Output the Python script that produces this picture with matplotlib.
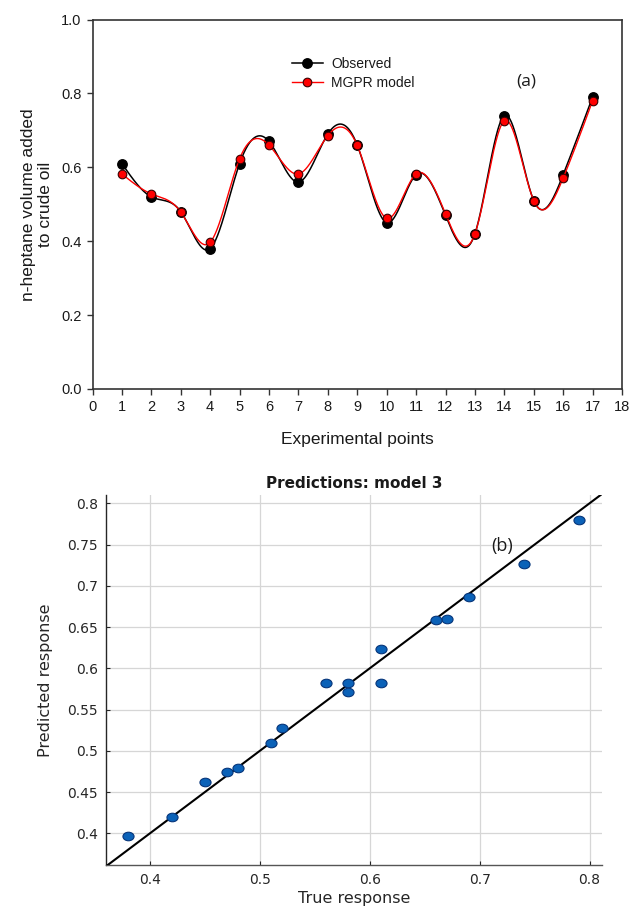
import numpy as np
import matplotlib
matplotlib.use("Agg")
import matplotlib.pyplot as plt
from matplotlib.lines import Line2D
from matplotlib.path import Path

# ---------------- data ----------------
exp_points = [1, 2, 3, 4, 5, 6, 7, 8, 9, 10, 11, 12, 13, 14, 15, 16, 17]
observed = [0.61, 0.52, 0.48, 0.38, 0.61, 0.67, 0.56, 0.69, 0.66, 0.45,
            0.58, 0.47, 0.42, 0.74, 0.51, 0.58, 0.79]
mgpr_model = [0.582, 0.528, 0.479, 0.397, 0.623, 0.660, 0.582, 0.686, 0.659, 0.462,
              0.582, 0.474, 0.420, 0.726, 0.510, 0.571, 0.780]

top_xticks = list(range(0, 19))
top_yticks = [0.0, 0.2, 0.4, 0.6, 0.8, 1.0]
bot_xticks = [0.4, 0.5, 0.6, 0.7, 0.8]
bot_yticks = [0.4, 0.45, 0.5, 0.55, 0.6, 0.65, 0.7, 0.75, 0.8]
bot_yticklabels = ["0.4", "0.45", "0.5", "0.55", "0.6", "0.65", "0.7", "0.75", "0.8"]


def natural_spline(x, y, xs):
    x = np.asarray(x, float)
    y = np.asarray(y, float)
    n = len(x)
    h = np.diff(x)
    A = np.zeros((n, n))
    b = np.zeros(n)
    A[0, 0] = 1.0
    A[-1, -1] = 1.0
    for i in range(1, n - 1):
        A[i, i - 1] = h[i - 1]
        A[i, i] = 2 * (h[i - 1] + h[i])
        A[i, i + 1] = h[i]
        b[i] = 6 * ((y[i + 1] - y[i]) / h[i] - (y[i] - y[i - 1]) / h[i - 1])
    M = np.linalg.solve(A, b)
    idx = np.clip(np.searchsorted(x, xs) - 1, 0, n - 2)
    x0, x1 = x[idx], x[idx + 1]
    hh = x1 - x0
    t1 = x1 - xs
    t0 = xs - x0
    return (M[idx] * t1 ** 3 / (6 * hh) + M[idx + 1] * t0 ** 3 / (6 * hh)
            + (y[idx] / hh - M[idx] * hh / 6) * t1
            + (y[idx + 1] / hh - M[idx + 1] * hh / 6) * t0)


W, H = 629, 911
fig = plt.figure(figsize=(W / 100, H / 100), dpi=100)
fig.patch.set_facecolor("white")

# ---------------- top panel (a) ----------------
sans = ["Liberation Sans", "DejaVu Sans"]
axA = fig.add_axes([92.5 / W, 1 - 389 / H, (622 - 92.5) / W, (389 - 19.5) / H])
xs = np.linspace(exp_points[0], exp_points[-1], 1000)
axA.plot(xs, natural_spline(exp_points, observed, xs), color="black", lw=1.1, zorder=2)
axA.plot(exp_points, observed, "o", color="black", ms=6.8, zorder=3)
axA.plot(xs, natural_spline(exp_points, mgpr_model, xs), color="#ff0000", lw=1.0, zorder=4)
axA.plot(exp_points, mgpr_model, "o", mfc="#ff0000", mec="#3a0000", mew=0.8, ms=6.2, zorder=5)

axA.set_xlim(0, 18)
axA.set_ylim(0, 1.0)
axA.set_xticks(top_xticks)
axA.set_xticklabels([str(t) for t in top_xticks], family=sans, fontsize=10.5, color="#1a1a1a")
axA.set_yticks(top_yticks)
axA.set_yticklabels(["%.1f" % t for t in top_yticks], family=sans, fontsize=10.5, color="#1a1a1a")
axA.tick_params(direction="out", length=4, width=1, color="#333333", pad=4)
for s in axA.spines.values():
    s.set_color("#333333")
    s.set_linewidth(1.2)
axA.set_xlabel("Experimental points", family=sans, fontsize=12.5, color="#1a1a1a", labelpad=13)
axA.set_ylabel("n-heptane volume added\nto crude oil", family=sans, fontsize=12.5,
               color="#1a1a1a", labelpad=6, linespacing=1.15)

h1 = Line2D([], [], color="black", lw=1.1, marker="o", ms=6.8, mfc="black", mec="black")
h2 = Line2D([], [], color="#ff0000", lw=1.0, marker="o", ms=6.2, mfc="#ff0000", mec="#3a0000", mew=0.8)
leg = axA.legend([h1, h2], ["Observed", "MGPR model"], loc="upper left",
                 bbox_to_anchor=(292 / W, 1 - 57 / H), bbox_transform=fig.transFigure,
                 frameon=False, borderpad=0, borderaxespad=0, handlelength=2.2,
                 handletextpad=0.6, labelspacing=0.35, prop={"family": sans, "size": 10})
for t in leg.get_texts():
    t.set_color("#1a1a1a")
axA.text(526 / W, 1 - 82 / H, "(a)", transform=fig.transFigure, ha="center", va="center",
         family=["Open Sans", "DejaVu Sans"], fontsize=12.5, color="#1a1a1a")

# ---------------- bottom panel (b) ----------------
bsans = ["DejaVu Sans"]
axB = fig.add_axes([106 / W, 1 - 865 / H, (601.7 - 106) / W, (865 - 495) / H])
xlimB = (0.36, 0.811)
ylimB = (0.3616, 0.81)
axB.set_xlim(*xlimB)
axB.set_ylim(*ylimB)
axB.grid(True, color="#d6d6d6", lw=0.9)
axB.set_axisbelow(True)
lo, hi = xlimB[0], 0.81
axB.plot([lo, hi], [lo, hi], color="black", lw=1.5, zorder=3)

circ = Path.unit_circle()
ell = Path(circ.vertices * np.array([1.3, 1.0]), circ.codes)
axB.plot(observed, mgpr_model, linestyle="none", marker=ell, ms=8,
         mfc="#0b62b8", mec="#06357a", mew=0.8, zorder=4)

axB.set_xticks(bot_xticks)
axB.set_xticklabels(["%.1f" % t for t in bot_xticks], family=bsans, fontsize=10, color="#262626")
axB.set_yticks(bot_yticks)
axB.set_yticklabels(bot_yticklabels, family=bsans, fontsize=10, color="#262626")
axB.tick_params(direction="in", length=3, width=0.8, color="#262626", pad=6)
axB.spines["top"].set_visible(False)
axB.spines["right"].set_visible(False)
axB.spines["left"].set_color("#262626")
axB.spines["bottom"].set_color("#555555")
axB.spines["left"].set_linewidth(1.0)
axB.spines["bottom"].set_linewidth(1.0)
axB.set_title("Predictions: model 3", family=bsans, fontsize=11, fontweight="bold",
              color="#1a1a1a", pad=5)
axB.set_xlabel("True response", family=bsans, fontsize=11.5, color="#262626", labelpad=3)
axB.set_ylabel("Predicted response", family=bsans, fontsize=11.5, color="#262626", labelpad=10)
axB.text(502 / W, 1 - 546 / H, "(b)", transform=fig.transFigure, ha="center", va="center",
         family=["Open Sans", "DejaVu Sans"], fontsize=13, color="#1a1a1a")

fig.savefig("out.png", dpi=100, facecolor="white")
